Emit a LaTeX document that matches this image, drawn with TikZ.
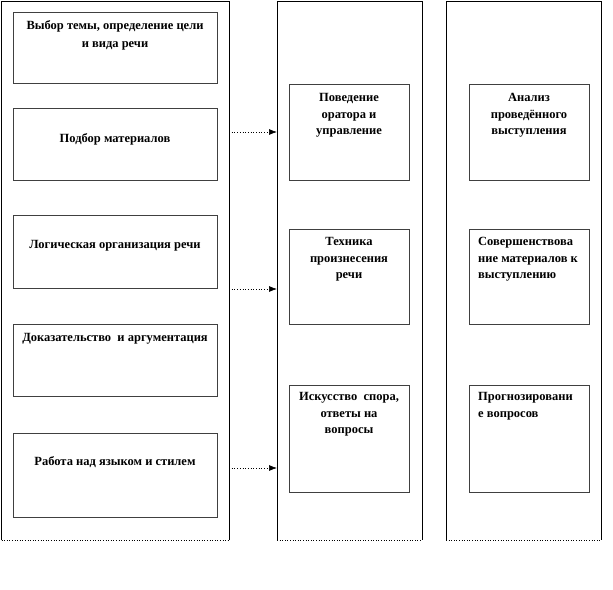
\documentclass[tikz,border=0pt]{standalone}
\usepackage{fontspec}
\setmainfont{Liberation Serif}
\usetikzlibrary{arrows.meta}
\begin{document}
\begin{tikzpicture}[x=1pt,y=-1pt,
  outer/.style={inner sep=0pt, anchor=north west},
  box/.style={draw=black!75, line width=0.8pt, inner sep=0pt, anchor=north west},
  txt/.style={inner sep=0pt, anchor=north, font=\bfseries\fontsize{12.5}{16.5}\selectfont, align=center},
  ltxt/.style={inner sep=0pt, anchor=north west, font=\bfseries\fontsize{12.5}{16.5}\selectfont, align=left},
  edge/.style={black, line width=0.6pt},
  arr/.style={black, line width=0.7pt, dotted, -{Latex[length=8pt,width=6pt]}}]
\useasboundingbox (0,0) rectangle (613,589);
% outer columns
\node[outer, minimum width=227.5pt, minimum height=539pt] (col1) at (1.5,1) {};
\node[outer, minimum width=145pt, minimum height=539pt] (col2) at (277,1) {};
\node[outer, minimum width=155pt, minimum height=539pt] (col3) at (446,1) {};
\foreach \c in {col1,col2,col3}{
  \draw[edge] (\c.south west) -- (\c.north west) -- (\c.north east) -- (\c.south east);
  \draw[edge, dotted] (\c.south west) -- (\c.south east);
}
% column 1 boxes
\node[box, minimum width=204pt, minimum height=71pt] (a1) at (13,12) {};
\node[box, minimum width=204pt, minimum height=72pt] (a2) at (13,108) {};
\node[box, minimum width=204pt, minimum height=73pt] (a3) at (13,215) {};
\node[box, minimum width=204pt, minimum height=72pt] (a4) at (13,324) {};
\node[box, minimum width=204pt, minimum height=84pt] (a5) at (13,433) {};
\node[txt, font=\bfseries\fontsize{12.5}{18}\selectfont] (ta1) at (115,20.5) {Выбор темы, определение цели\\и вида речи};
\node[txt] (ta2) at (115,133.5) {Подбор материалов};
\node[txt] (ta3) at (115,240.5) {Логическая организация речи};
\node[txt] (ta4) at (115,333.5) {Доказательство\ \ и аргументация};
\node[txt] (ta5) at (115,456.5) {Работа над языком и стилем};
% column 2 boxes
\node[box, minimum width=120pt, minimum height=96pt] (b1) at (289,84) {};
\node[box, minimum width=120pt, minimum height=95pt] (b2) at (289,229) {};
\node[box, minimum width=120pt, minimum height=107pt] (b3) at (289,385) {};
\node[txt] (tb1) at (349,93.5) {Поведение\\оратора и\\управление};
\node[txt] (tb2) at (349,237.5) {Техника\\произнесения\\речи};
\node[txt] (tb3) at (349,392.5) {Искусство\ \ спора,\\ответы на\\вопросы};
% column 3 boxes
\node[box, minimum width=120pt, minimum height=96pt] (c1) at (469,84) {};
\node[box, minimum width=120pt, minimum height=95pt] (c2) at (469,229) {};
\node[box, minimum width=120pt, minimum height=107pt] (c3) at (469,385) {};
\node[txt] (tc1) at (529,93.5) {Анализ\\проведённого\\выступления};
\node[ltxt] (tc2) at (478,237.5) {Совершенствова\\ние материалов к\\выступлению};
\node[ltxt] (tc3) at (478,392.5) {Прогнозировани\\е вопросов};
% arrows
\coordinate (p1) at (229,132);
\coordinate (p2) at (229,289);
\coordinate (p3) at (229,468);
\draw[arr] (p1) -- (p1 -| col2.west);
\draw[arr] (p2) -- (p2 -| col2.west);
\draw[arr] (p3) -- (p3 -| col2.west);
\end{tikzpicture}
\end{document}
